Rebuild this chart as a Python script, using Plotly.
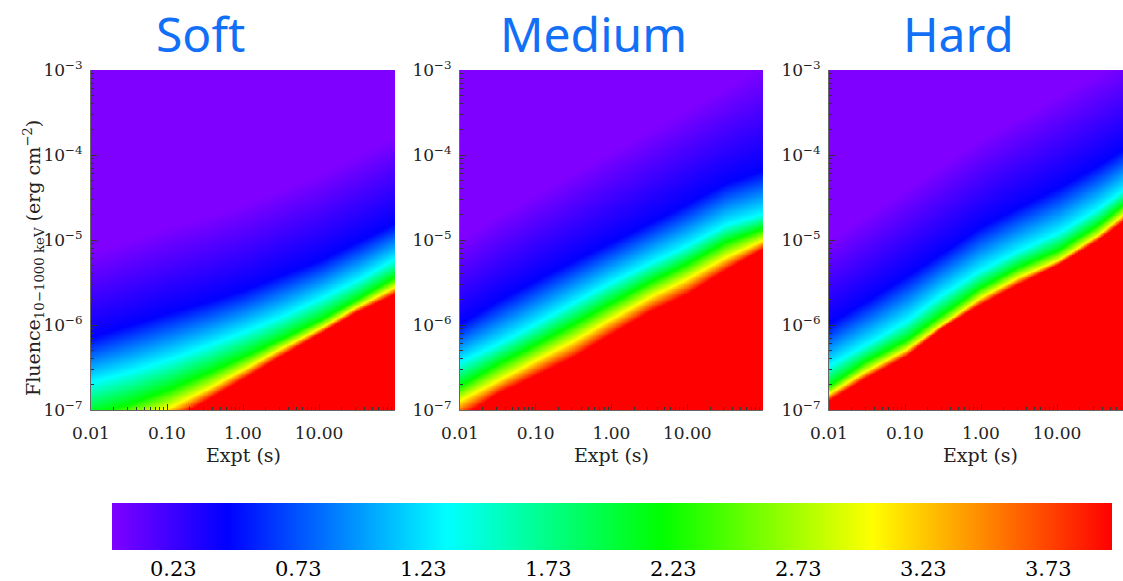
import numpy as np
import plotly.graph_objects as go

# ---------------- data ----------------
panel_titles = ["Soft", "Medium", "Hard"]
# exposure nodes, log10(Expt / s)
log_expt_nodes = [-2.0, -1.5, -1.0, -0.5, 0.0, 0.5, 1.0, 1.5, 2.0]
# colour value attached to each iso-line (red, yellow, green, cyan, blue, violet)
level_values = [3.985, 3.025, 2.185, 1.325, 0.445, -0.015]

# log10(fluence) where each colour level sits, at every exposure node
soft_red    = [-7.55, -7.36, -7.15, -6.89, -6.63, -6.36, -6.10, -5.84, -5.63]
soft_yellow = [-7.31, -7.16, -6.98, -6.76, -6.52, -6.27, -6.04, -5.78, -5.55]
soft_green  = [-7.06, -6.92, -6.76, -6.57, -6.37, -6.16, -5.94, -5.69, -5.43]
soft_cyan   = [-6.67, -6.55, -6.41, -6.25, -6.08, -5.90, -5.69, -5.47, -5.22]
soft_blue   = [-6.14, -6.00, -5.86, -5.73, -5.59, -5.41, -5.24, -5.02, -4.80]
soft_violet = [-5.15, -5.00, -4.85, -4.72, -4.58, -4.40, -4.22, -4.00, -3.78]

medium_red    = [-7.08, -6.80, -6.59, -6.37, -6.10, -5.84, -5.63, -5.35, -5.10]
medium_yellow = [-6.88, -6.65, -6.41, -6.18, -5.92, -5.67, -5.45, -5.20, -5.00]
medium_green  = [-6.71, -6.45, -6.22, -5.98, -5.73, -5.49, -5.27, -5.02, -4.86]
medium_cyan   = [-6.43, -6.22, -5.98, -5.73, -5.49, -5.27, -5.06, -4.82, -4.69]
medium_blue   = [-5.98, -5.71, -5.47, -5.24, -5.02, -4.80, -4.57, -4.33, -4.18]
medium_violet = [-5.00, -4.70, -4.45, -4.20, -3.95, -3.70, -3.45, -3.20, -2.95]

hard_red    = [-6.88, -6.61, -6.37, -6.02, -5.75, -5.51, -5.29, -5.02, -4.69]
hard_yellow = [-6.80, -6.53, -6.29, -5.98, -5.67, -5.43, -5.24, -4.96, -4.61]
hard_green  = [-6.71, -6.41, -6.18, -5.86, -5.55, -5.31, -5.12, -4.84, -4.49]
hard_cyan   = [-6.47, -6.22, -5.96, -5.63, -5.35, -5.12, -4.92, -4.65, -4.33]
hard_blue   = [-5.98, -5.71, -5.43, -5.14, -4.84, -4.61, -4.39, -4.14, -3.86]
hard_violet = [-5.00, -4.70, -4.40, -4.10, -3.80, -3.55, -3.30, -3.05, -2.80]

x_tick_vals = [0.01, 0.1, 1, 10]
x_tick_text = ["0.01", "0.10", "1.00", "10.00"]
y_tick_vals = [1e-7, 1e-6, 1e-5, 1e-4, 1e-3]
y_tick_text = ["10<sup>−7</sup>", "10<sup>−6</sup>", "10<sup>−5</sup>",
               "10<sup>−4</sup>", "10<sup>−3</sup>"]
cbar_tick_vals = [0.23, 0.73, 1.23, 1.73, 2.23, 2.73, 3.23, 3.73]
cbar_tick_text = ["0.23", "0.73", "1.23", "1.73", "2.23", "2.73", "3.23", "3.73"]

panel_levels = [
    [soft_red, soft_yellow, soft_green, soft_cyan, soft_blue, soft_violet],
    [medium_red, medium_yellow, medium_green, medium_cyan, medium_blue, medium_violet],
    [hard_red, hard_yellow, hard_green, hard_cyan, hard_blue, hard_violet],
]

# ---------------- build the image grids ----------------
gx = np.linspace(-2.02, 2.02, 203)
gy = np.linspace(-7.02, -2.98, 203)


def build(levels):
    L = np.array([np.interp(gx, log_expt_nodes, lv) for lv in levels])
    z = np.empty((len(gy), len(gx)))
    for j in range(len(gx)):
        z[:, j] = np.interp(gy, L[:, j], level_values)
    return z


W, H = 1123, 581
x_domains = [[91 / W, 395 / W], [460 / W, 763 / W], [829 / W, 1.0]]
x_ranges = [[-2, 2], [-2, 2], [-2, -2 + 294 / 76]]
y_domain = [1 - 410 / H, 1 - 70 / H]

colorscale = [
    [0.0, "#7f00ff"],
    [0.115, "#0000ff"],
    [0.335, "#00ffff"],
    [0.55, "#00ff00"],
    [0.76, "#ffff00"],
    [1.0, "#ff0000"],
]

fig = go.Figure()
for i, levels in enumerate(panel_levels):
    sfx = "" if i == 0 else str(i + 1)
    fig.add_trace(go.Heatmap(
        x=10 ** gx, y=10 ** gy, z=build(levels),
        coloraxis="coloraxis", zsmooth="best",
        xaxis="x" + sfx, yaxis="y" + sfx, hoverinfo="skip",
    ))

minor_x = [k * 10.0 ** e for e in range(-2, 2) for k in range(2, 10)]
minor_y = [k * 10.0 ** e for e in range(-7, -3) for k in range(2, 10)]
tickfont = dict(family="DejaVu Serif", size=17, color="#222222")

layout = dict(
    width=W, height=H,
    margin=dict(l=0, r=0, t=0, b=0, pad=0, autoexpand=False),
    paper_bgcolor="white", plot_bgcolor="white",
    showlegend=False,
    coloraxis=dict(
        colorscale=colorscale, cmin=-0.015, cmax=3.985,
        colorbar=dict(
            orientation="h", x=612 / W, xanchor="center",
            y=1 - 503 / H, yanchor="top", xpad=0, ypad=0,
            len=1000, lenmode="pixels", thickness=47, thicknessmode="pixels",
            outlinewidth=0, ticks="", tickvals=cbar_tick_vals, ticktext=cbar_tick_text,
            tickfont=dict(family="DejaVu Serif", size=21, color="black"),
        ),
    ),
)
for i in range(3):
    sfx = "" if i == 0 else str(i + 1)
    layout["xaxis" + sfx] = dict(
        type="log", domain=x_domains[i], range=x_ranges[i], anchor="y" + sfx,
        tickvals=x_tick_vals, ticktext=x_tick_text, ticks="inside", ticklen=6,
        tickcolor="#333333", tickwidth=1,
        minor=dict(tickvals=minor_x, ticks="inside", ticklen=3, tickcolor="#333333"),
        showgrid=False, zeroline=False, showline=True, linecolor="#666666", linewidth=1,
        tickfont=tickfont, ticklabelstandoff=8, fixedrange=True, automargin=False,
    )
    layout["yaxis" + sfx] = dict(
        type="log", domain=y_domain, range=[-7, -3], anchor="x" + sfx,
        tickvals=y_tick_vals, ticktext=y_tick_text, ticks="inside", ticklen=6,
        tickcolor="#333333", tickwidth=1,
        minor=dict(tickvals=minor_y, ticks="inside", ticklen=3, tickcolor="#333333"),
        showgrid=False, zeroline=False, showline=True, linecolor="#666666", linewidth=1,
        tickfont=tickfont, ticklabelstandoff=4, fixedrange=True, automargin=False,
    )
fig.update_layout(**layout)

title_x = [200, 593, 958]
label_x = [243, 611, 980]
for i in range(3):
    fig.add_annotation(
        text=panel_titles[i], x=title_x[i] / W, y=1.0, xref="paper", yref="paper",
        xanchor="center", yanchor="top", showarrow=False, borderpad=0,
        font=dict(family="Noto Sans", size=48, color="#1270F7"),
    )
    fig.add_annotation(
        text="Expt (s)", x=label_x[i] / W, y=1 - 455 / H, xref="paper", yref="paper",
        xanchor="center", yanchor="middle", showarrow=False,
        font=dict(family="DejaVu Serif", size=19, color="#222222"),
    )
fig.add_annotation(
    text="Fluence<sub>10−1000 keV</sub> (erg cm<sup>−2</sup>)",
    x=33 / W, y=1 - 258 / H, xref="paper", yref="paper", textangle=-90,
    xanchor="center", yanchor="middle", showarrow=False,
    font=dict(family="DejaVu Serif", size=19, color="#222222"),
)

fig.write_html(
    "out.html",
    config={"displayModeBar": False},
    post_script="document.body.style.margin='0';document.body.style.overflow='hidden';",
)
